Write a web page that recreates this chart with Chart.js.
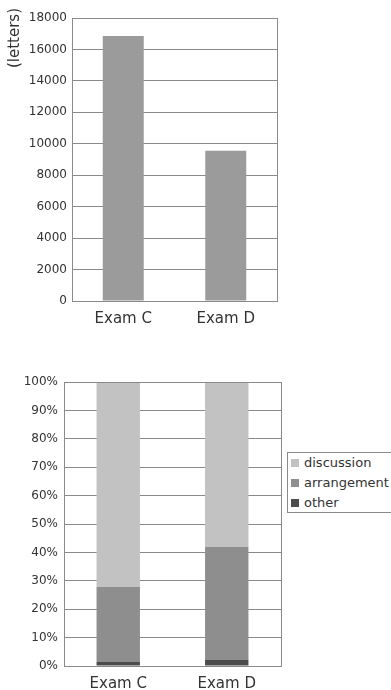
<!DOCTYPE html>
<html>
<head>
<meta charset="utf-8">
<script src="https://cdn.jsdelivr.net/npm/chart.js@4.4.1/dist/chart.umd.min.js"></script>
<style>
    html, body { margin: 0; padding: 0; background: #fff; overflow: hidden; }
    body { width: 391px; height: 690px; position: relative; font-family: "DejaVu Sans", sans-serif; }
    .box { position: absolute; left: 0; width: 391px; }
    #top-box { top: 0; height: 330px; }
    #bottom-box { top: 340px; height: 352px; }
    #legend {
        position: absolute; left: 287px; top: 452px; width: 200px; height: 59px;
        border: 1px solid #8a8a8a; background: #fff; font-size: 13px; color: #333;
    }
    #legend .item { height: 20px; line-height: 20px; white-space: nowrap; position: relative; padding-left: 16px; }
    #legend .swatch { position: absolute; left: 3px; top: 6px; width: 8px; height: 8px; }
</style>
</head>
<body>
<div class="box" id="top-box"><canvas id="lettersChart"></canvas></div>
<div class="box" id="bottom-box"><canvas id="shareChart"></canvas></div>
<div id="legend"></div>

<script>
// Data
const exams = ['Exam C', 'Exam D'];
const letters = [16850, 9550];
const shareLabels = ['discussion', 'arrangement', 'other'];
const discussion = [72.2, 58.1];
const arrangement = [26.4, 39.8];
const other = [1.4, 2.1];
const shareColors = ['#c2c2c2', '#8e8e8e', '#4c4c4c'];

const gridColor = '#8a8a8a';
const textColor = '#333';

Chart.defaults.font.family = '"DejaVu Sans", sans-serif';

// box round the plot area (right edge included)
const frame = {
    id: 'frame',
    afterDraw(chart) {
        const { ctx, chartArea } = chart;
        ctx.save();
        ctx.strokeStyle = gridColor;
        ctx.lineWidth = 1;
        ctx.strokeRect(chartArea.left + 0.5, chartArea.top + 0.5,
            chartArea.right - chartArea.left, chartArea.bottom - chartArea.top);
        ctx.restore();
    }
};

// unit label sits a little above the top of the axis in the original
const unitLabel = {
    id: 'unitLabel',
    afterDraw(chart) {
        const { ctx, chartArea } = chart;
        ctx.save();
        ctx.translate(15, chartArea.top + 20);
        ctx.rotate(-Math.PI / 2);
        ctx.font = '15px "DejaVu Sans", sans-serif';
        ctx.fillStyle = textColor;
        ctx.textAlign = 'center';
        ctx.textBaseline = 'middle';
        ctx.fillText('(letters)', 0, 0);
        ctx.restore();
    }
};

function xAxis() {
    return {
        grid: { display: false, drawTicks: false },
        border: { display: false },
        ticks: { color: textColor, font: { size: 15 }, padding: 9 },
        afterFit(scale) { scale.height = 26; }
    };
}

// 1. Letters per exam
new Chart(document.getElementById('lettersChart'), {
    type: 'bar',
    data: {
        labels: exams,
        datasets: [{
            data: letters,
            backgroundColor: '#9b9b9b',
            barPercentage: 0.4,
            categoryPercentage: 1
        }]
    },
    options: {
        responsive: true,
        maintainAspectRatio: false,
        animation: false,
        layout: { padding: { top: 18, right: 114, bottom: 3, left: 0 } },
        plugins: { legend: { display: false }, tooltip: { enabled: false } },
        scales: {
            x: xAxis(),
            y: {
                min: 0, max: 18000,
                ticks: { stepSize: 2000, color: textColor, font: { size: 12 }, padding: 5,
                    callback: v => String(v) },
                grid: { color: gridColor, drawTicks: false },
                border: { color: gridColor },
                afterFit(scale) { scale.width = 72; }
            }
        }
    },
    plugins: [frame, unitLabel]
});

// 2. Share of each kind
const shareData = [discussion, arrangement, other];
const shareSets = shareLabels.map((label, i) => ({
    label,
    data: shareData[i],
    backgroundColor: shareColors[i],
    barPercentage: 0.4,
    categoryPercentage: 1
})).reverse(); // other at the bottom of the stack

new Chart(document.getElementById('shareChart'), {
    type: 'bar',
    data: { labels: exams, datasets: shareSets },
    options: {
        responsive: true,
        maintainAspectRatio: false,
        animation: false,
        layout: { padding: { top: 42, right: 110, bottom: 0, left: 0 } },
        plugins: { legend: { display: false }, tooltip: { enabled: false } },
        scales: {
            x: Object.assign(xAxis(), { stacked: true }),
            y: {
                stacked: true,
                min: 0, max: 100,
                ticks: { stepSize: 10, color: textColor, font: { size: 12 }, padding: 6,
                    callback: v => v + '%' },
                grid: { color: gridColor, drawTicks: false },
                border: { color: gridColor },
                afterFit(scale) { scale.width = 64; }
            }
        }
    },
    plugins: [frame]
});

// HTML legend
const legend = document.getElementById('legend');
shareLabels.forEach((label, i) => {
    const item = document.createElement('div');
    item.className = 'item';
    item.innerHTML = `<span class="swatch" style="background:${shareColors[i]}"></span>${label}`;
    legend.appendChild(item);
});
</script>
</body>
</html>
